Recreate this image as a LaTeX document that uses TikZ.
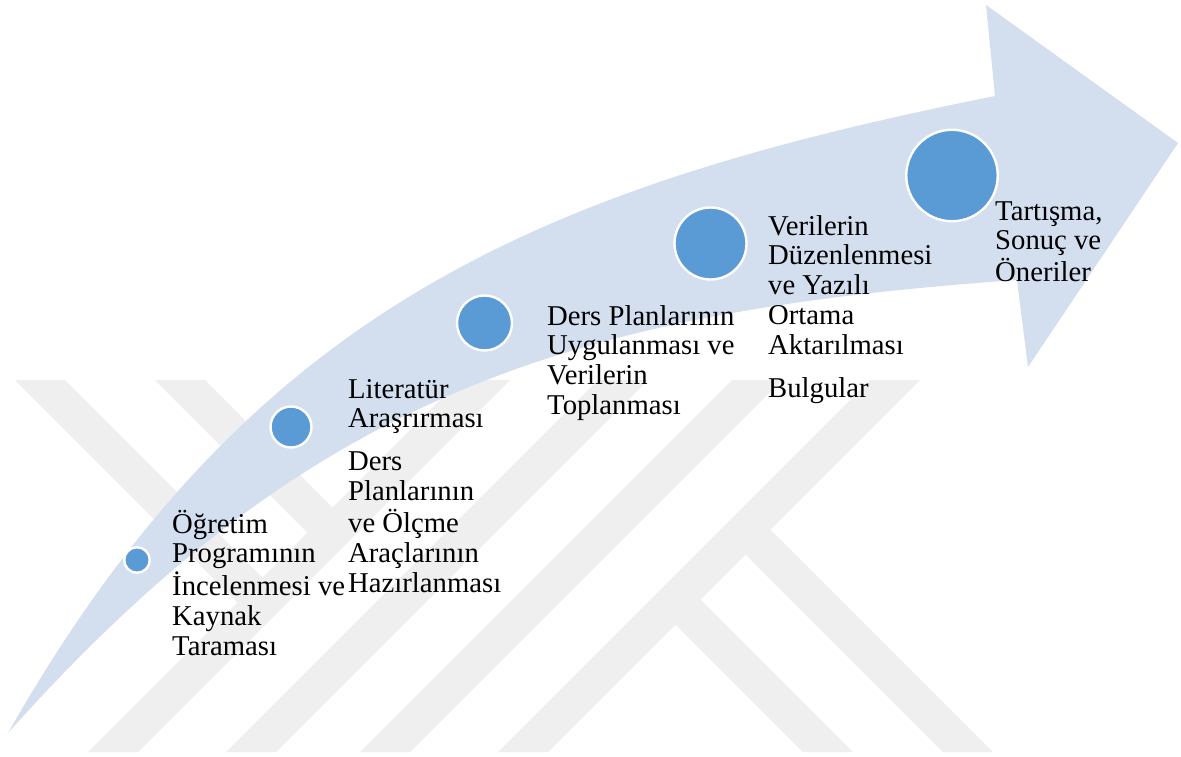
\documentclass[tikz,border=0pt]{standalone}
\usepackage{fontspec}
\setmainfont{Liberation Serif}
\definecolor{bandcol}{RGB}{211,222,239}
\definecolor{dotcol}{RGB}{91,155,213}
\definecolor{wmcol}{RGB}{239,239,239}
\begin{document}
\begin{tikzpicture}[x=1pt,y=-1pt,
  dot/.style={circle,fill=dotcol,draw=white,line width=2.4pt,inner sep=0pt},
  lbl/.style={anchor=base west,inner sep=0pt,font=\fontsize{28.7}{29.8}\selectfont},
  wm/.style={fill=wmcol}
]
\useasboundingbox (0,0) rectangle (1181,756);
\fill[white] (0,0) rectangle (1181,756);

% watermark
\fill[wm]
  (460,380) -- (510,380) -- (138,752) -- (88,752) -- cycle
  (598,380) -- (648,380) -- (276,752) -- (226,752) -- cycle
  (732,380) -- (782,380) -- (410,752) -- (360,752) -- cycle
  (870,380) -- (920,380) -- (548,752) -- (498,752) -- cycle
  (15,380) -- (65,380) -- (267.5,582.5) -- (242.5,607.5) -- cycle
  (155,380) -- (205,380) -- (337.5,512.5) -- (312.5,537.5) -- cycle
  (765.5,524.5) -- (993,752) -- (943,752) -- (740.5,549.5) -- cycle
  (695.5,594.5) -- (853,752) -- (803,752) -- (670.5,619.5) -- cycle;

% curved arrow
\fill[bandcol] (8,733) .. controls (248,311) and (535,188) .. (995,96)
  -- (986,5) -- (1178,143) -- (1028,367) -- (1017,280)
  .. controls (567,311.5) and (308,397) .. (8,733) -- cycle;

% circles
\node[dot,minimum size=25.5pt] (c1) at (137,560) {};
\node[dot,minimum size=41pt] (c2) at (291,427) {};
\node[dot,minimum size=55pt] (c3) at (484.5,323) {};
\node[dot,minimum size=72pt] (c4) at (710.5,243.5) {};
\node[dot,minimum size=91.5pt] (c5) at (952,175.5) {};

% labels
\node[lbl] (t1) at (172,533) {\begin{tabular}[t]{@{}l@{}}Öğretim\\Programının\\İncelenmesi ve\\Kaynak\\Taraması\end{tabular}};
\node[lbl] (t2) at (348,398) {\begin{tabular}[t]{@{}l@{}}Literatür\\Araşrırması\\[13pt]Ders\\Planlarının\\ve Ölçme\\Araçlarının\\Hazırlanması\end{tabular}};
\node[lbl] (t3) at (547,325) {\begin{tabular}[t]{@{}l@{}}Ders Planlarının\\Uygulanması ve\\Verilerin\\Toplanması\end{tabular}};
\node[lbl] (t4) at (768,235) {\begin{tabular}[t]{@{}l@{}}Verilerin\\Düzenlenmesi\\ve Yazılı\\Ortama\\Aktarılması\\[13pt]Bulgular\end{tabular}};
\node[lbl] (t5) at (995,220) {\begin{tabular}[t]{@{}l@{}}Tartışma,\\Sonuç ve\\Öneriler\end{tabular}};
\end{tikzpicture}
\end{document}
